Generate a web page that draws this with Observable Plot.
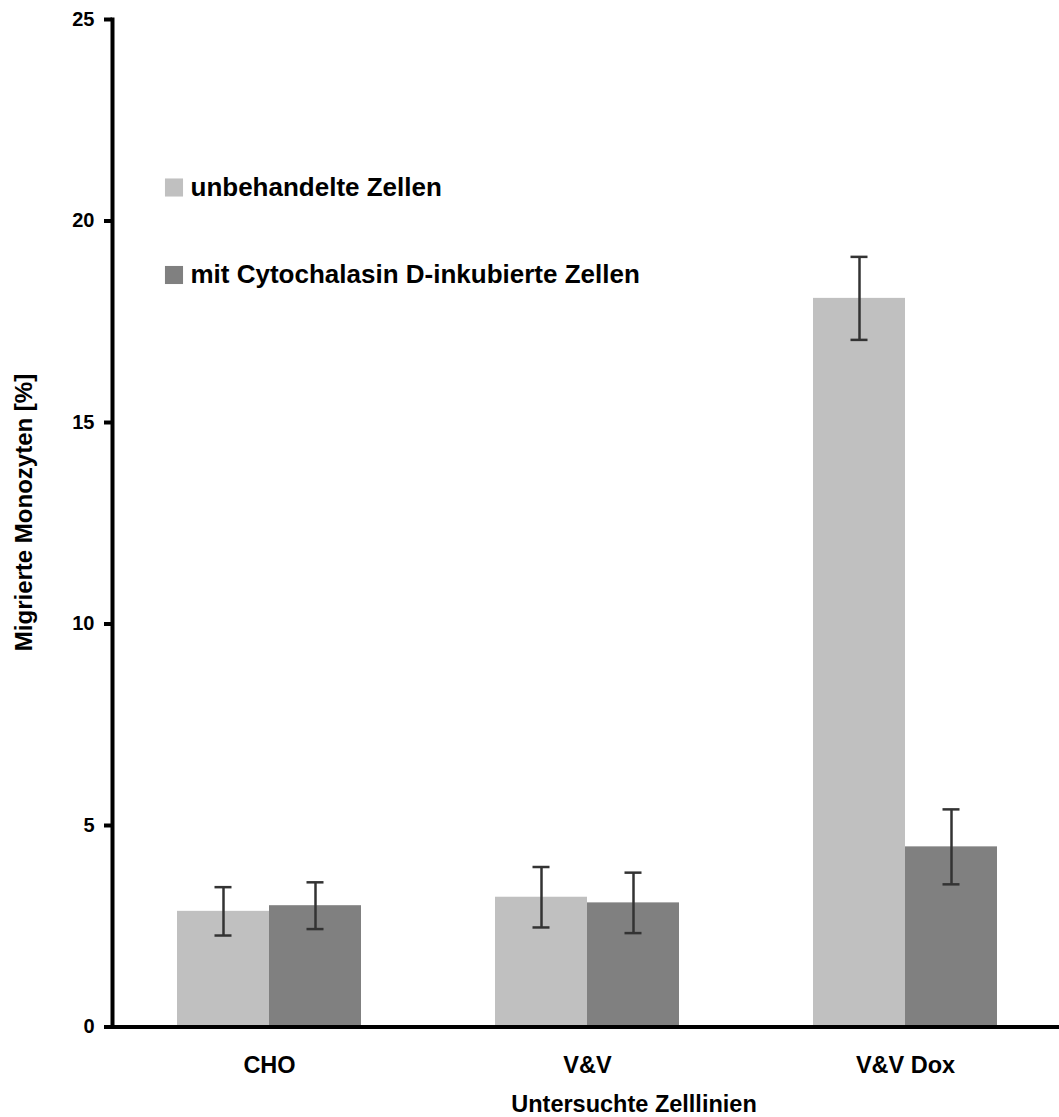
<!DOCTYPE html>
<html>
<head>
<meta charset="utf-8">
<script src="https://cdn.jsdelivr.net/npm/d3@7"></script>
<script src="https://cdn.jsdelivr.net/npm/@observablehq/plot@0.6"></script>
<style>
  html, body { margin: 0; padding: 0; background: #fff; }
  #chart svg { display: block; }
</style>
</head>
<body>
<div id="chart"></div>
<script>
// ---- data ----
const categories = ["CHO", "V&V", "V&V Dox"];
const seriesNames = ["unbehandelte Zellen", "mit Cytochalasin D-inkubierte Zellen"];
const untreated = [2.87, 3.22, 18.08];
const untreatedSD = [0.60, 0.75, 1.03];
const cytoD = [3.01, 3.08, 4.47];
const cytoDSD = [0.58, 0.75, 0.93];
const seriesColors = ["#c0c0c0", "#808080"];
const yTicks = [0, 5, 10, 15, 20, 25];
const yTitle = "Migrierte Monozyten [%]";
const xTitle = "Untersuchte Zelllinien";

// table for Plot
const rowsA = categories.map((c, i) => ({category: c, series: seriesNames[0], value: untreated[i], sd: untreatedSD[i]}));
const rowsB = categories.map((c, i) => ({category: c, series: seriesNames[1], value: cytoD[i], sd: cytoDSD[i]}));

const font = "'Liberation Sans', Arial, Helvetica, sans-serif";
const errColor = "#333333";

const chart = Plot.plot({
  width: 1059,
  height: 1117,
  marginTop: 19,
  marginBottom: 90.5,
  marginLeft: 112,
  marginRight: 0,
  style: {fontFamily: font, fontWeight: "bold", background: "white", color: "black"},
  x: {domain: categories, range: [110, 1064], paddingInner: 0.4214, paddingOuter: 0.2107, label: null},
  y: {domain: [0, 25], label: null},
  color: {domain: seriesNames, range: seriesColors},
  marks: [
    // bars
    Plot.barY(rowsA, {x: "category", y: "value", fill: "series", insetRight: 92}),
    Plot.barY(rowsB, {x: "category", y: "value", fill: "series", insetLeft: 92}),
    // error bars
    Plot.ruleX(rowsA, {x: "category", y1: d => d.value - d.sd, y2: d => d.value + d.sd, dx: -46, stroke: errColor, strokeWidth: 2.5}),
    Plot.ruleX(rowsB, {x: "category", y1: d => d.value - d.sd, y2: d => d.value + d.sd, dx: 46, stroke: errColor, strokeWidth: 2.5}),
    Plot.tickY(rowsA, {x: "category", y: d => d.value + d.sd, insetLeft: 37.5, insetRight: 129.5, stroke: errColor, strokeWidth: 2.5}),
    Plot.tickY(rowsA, {x: "category", y: d => d.value - d.sd, insetLeft: 37.5, insetRight: 129.5, stroke: errColor, strokeWidth: 2.5}),
    Plot.tickY(rowsB, {x: "category", y: d => d.value + d.sd, insetLeft: 129.5, insetRight: 37.5, stroke: errColor, strokeWidth: 2.5}),
    Plot.tickY(rowsB, {x: "category", y: d => d.value - d.sd, insetLeft: 129.5, insetRight: 37.5, stroke: errColor, strokeWidth: 2.5}),
    // axes
    Plot.frame({anchor: "left", stroke: "black", strokeWidth: 4}),
    Plot.ruleY([0], {stroke: "black", strokeWidth: 4}),
    Plot.axisY({ticks: yTicks, tickSize: 8, tickPadding: 10, stroke: "black", strokeWidth: 4, fontSize: 20, fill: "black", tickFormat: d => String(d)}),
    Plot.axisX({tickSize: 0, tickPadding: 29, fontSize: 23.5, fill: "black"}),
    // axis titles
    Plot.text([yTitle], {text: d => d, frameAnchor: "left", textAnchor: "middle", lineAnchor: "middle", rotate: -90, dx: -88, dy: -10.75, fontSize: 24, fill: "black"}),
    Plot.text([xTitle], {text: d => d, frameAnchor: "bottom", textAnchor: "middle", lineAnchor: "middle", dx: 48, dy: 77.5, fontSize: 23.5, fill: "black"}),
    // legend
    Plot.dot([seriesNames[0]], {frameAnchor: "top-left", dx: 61.5, dy: 168, symbol: "square", r: 10.2, fill: d => d}),
    Plot.dot([seriesNames[1]], {frameAnchor: "top-left", dx: 61.5, dy: 255.5, symbol: "square", r: 10.2, fill: d => d}),
    Plot.text([seriesNames[0]], {text: d => d, frameAnchor: "top-left", dx: 78, dy: 168.5, textAnchor: "start", lineAnchor: "middle", fontSize: 26, fill: "black"}),
    Plot.text([seriesNames[1]], {text: d => d, frameAnchor: "top-left", dx: 78, dy: 255.5, textAnchor: "start", lineAnchor: "middle", fontSize: 26, fill: "black"})
  ]
});

document.getElementById("chart").appendChild(chart);
</script>
</body>
</html>
